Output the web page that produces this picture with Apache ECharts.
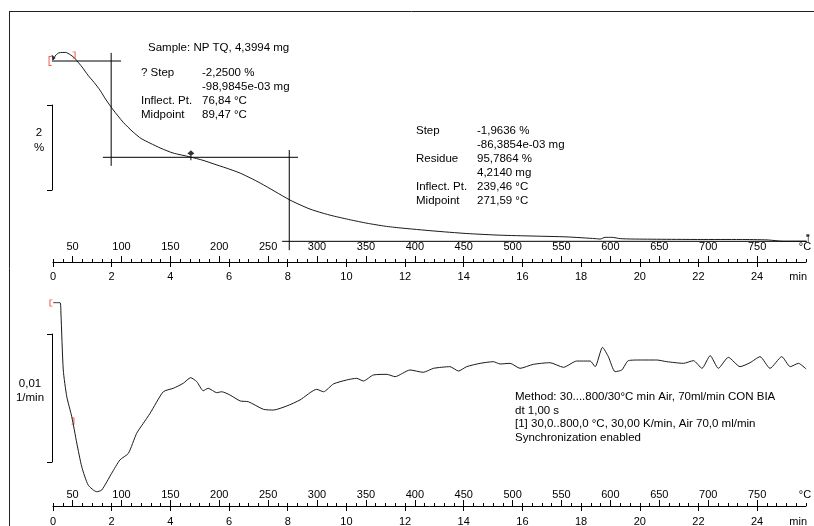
<!DOCTYPE html>
<html><head><meta charset="utf-8">
<script src="https://cdn.jsdelivr.net/npm/echarts@6/dist/echarts.min.js"></script>
<style>html,body{margin:0;padding:0;background:#fff}#c{width:814px;height:526px}</style>
</head><body><div id="c"></div>
<script>
// ---- Data (time in min, heating 30 K/min from 30 °C) ----
const tgaTime = [0.00,0.10,0.20,0.31,0.44,0.58,0.72,0.82,0.99,1.19,
  1.40,1.60,1.81,2.05,2.39,2.73,3.00,3.31,3.68,4.09,
  4.67,5.11,5.59,6.03,6.38,6.72,7.06,7.57,8.08,8.42,
  8.76,9.17,9.55,10.13,10.70,11.32,11.83,12.95,14.08,15.24,
  16.36,17.52,18.48,18.65,18.82,19.06,19.33,19.77,22.06,23.42,
  24.34,24.89,25.67];
const tgaMass = [100.03,100.14,100.19,100.20,100.20,100.15,100.08,100.00,99.86,99.67,
  99.50,99.32,99.09,98.86,98.57,98.34,98.19,98.08,97.96,97.85,
  97.76,97.68,97.57,97.47,97.38,97.27,97.15,96.95,96.75,96.64,
  96.54,96.45,96.38,96.29,96.21,96.14,96.10,96.03,95.97,95.93,
  95.91,95.89,95.85,95.84,95.88,95.88,95.85,95.84,95.83,95.83,
  95.82,95.79,95.79];
const dtgTime = [0.01,0.24,0.27,0.35,0.47,0.64,0.81,0.98,1.20,1.49,
  1.66,2.00,2.28,2.57,2.85,3.08,3.31,3.76,4.10,4.44,
  4.69,4.90,5.12,5.29,5.58,5.75,6.03,6.38,6.66,7.17,
  7.51,7.97,8.42,8.99,9.22,9.56,10.01,10.35,10.58,10.92,
  11.38,11.66,12.17,12.62,12.97,13.53,13.82,14.10,14.56,15.01,
  15.24,15.58,15.92,16.37,16.94,17.40,17.85,18.31,18.48,18.73,
  18.93,19.16,19.39,19.61,20.01,20.58,20.92,21.49,21.83,22.12,
  22.40,22.68,23.02,23.42,23.76,24.10,24.44,24.84,25.13,25.41,
  25.67];
const dtgRate = [0.00487,0.00487,0.00406,-0.00039,-0.00248,-0.00404,-0.00609,-0.00795,-0.00938,-0.00990,
  -0.00977,-0.00846,-0.00742,-0.00690,-0.00534,-0.00455,-0.00377,-0.00209,-0.00182,-0.00143,
  -0.00099,-0.00130,-0.00201,-0.00182,-0.00216,-0.00209,-0.00234,-0.00281,-0.00287,-0.00346,
  -0.00352,-0.00320,-0.00273,-0.00190,-0.00209,-0.00148,-0.00117,-0.00104,-0.00125,-0.00078,
  -0.00073,-0.00091,-0.00039,-0.00057,-0.00026,-0.00013,-0.00047,-0.00013,0.00013,0.00026,
  0.00008,0.00013,-0.00026,0.00005,0.00018,-0.00018,0.00031,0.00031,-0.00013,0.00138,
  0.00065,-0.00052,-0.00039,0.00034,0.00039,0.00039,0.00026,0.00013,0.00034,-0.00026,
  0.00073,-0.00026,0.00060,-0.00013,0.00018,0.00065,-0.00026,0.00065,-0.00013,0.00013,
  -0.00031];

// step evaluation (values from the evaluation texts)
const step1Levels = [100.0, 97.75];
const step2Residue = 95.7864;
const midpointTemps = [89.47, 271.59];
const step1UpperSpan = [-0.31, 2.32];
const step1LowerSpan = [1.70, 8.35];
const residueSpan = [7.81, 25.81];
const mid1Span = [100.19, 97.55];
const mid2Span = [97.92, 95.58];

// markers
const inflMarker = [4.70, 97.80];
const startMarker = [0.02, 100.08];
const endMarker = [25.73, 95.86];
const tgaLimits = [[-0.10, 100.0], [0.72, 100.14]];
const dtgLimits = [[-0.07, 0.00484], [0.68, -0.00438]];

// axes
const timeLabels = [0, 2, 4, 6, 8, 10, 12, 14, 16, 18, 20, 22, 24];
const tempLabels = [50,100,150,200,250,300,350,400,450,500,550,600,650,700,750];
const tempStart = 30, tempEnd = 800, heatingRate = 30;
const timeMax = (tempEnd - tempStart) / heatingRate;
const tempMinorTicks = [];
for (let T = tempStart; T <= tempEnd; T += 10) tempMinorTicks.push(T);

const sampleText = 'Sample: NP TQ, 4,3994 mg';
const step1Names = '? Step\n\nInflect. Pt.\nMidpoint';
const step1Values = '-2,2500 %\n-98,9845e-03 mg\n76,84 °C\n89,47 °C';
const step2Names = 'Step\n\nResidue\n\nInflect. Pt.\nMidpoint';
const step2Values = '-1,9636 %\n-86,3854e-03 mg\n95,7864 %\n4,2140 mg\n239,46 °C\n271,59 °C';
const methodText = 'Method: 30....800/30°C min Air, 70ml/min CON BIA\ndt 1,00 s\n[1] 30,0..800,0 °C, 30,00 K/min, Air 70,0 ml/min\nSynchronization enabled';

// ---- Chart ----
const FONT = '"Liberation Sans", Arial, sans-serif';
const BLACK = '#000';
const RED = '#ee3322';
const toT = T => (T - tempStart) / heatingRate;

function timeAxis(grid, margin) {
  return {
    gridIndex: grid, type: 'value', position: 'bottom', min: 0, max: timeMax,
    axisLine: {show: true, onZero: false, lineStyle: {color: BLACK, width: 1}},
    axisTick: {show: true, customValues: timeLabels, length: 5, lineStyle: {color: BLACK}},
    axisLabel: {show: true, customValues: timeLabels.concat([25.4]), margin: margin,
      formatter: v => (v > 24.5 ? 'min' : String(v)), color: BLACK, fontSize: 11, fontFamily: FONT},
    splitLine: {show: false}
  };
}
function tempAxisMinor(grid) {
  return {
    gridIndex: grid, type: 'value', position: 'bottom', min: tempStart, max: tempEnd,
    axisLine: {show: false, onZero: false},
    axisTick: {show: true, inside: true, customValues: tempMinorTicks, length: 3, lineStyle: {color: BLACK}},
    axisLabel: {show: false}, splitLine: {show: false}
  };
}
function tempAxisMajor(grid, margin) {
  return {
    gridIndex: grid, type: 'value', position: 'bottom', min: tempStart, max: tempEnd,
    axisLine: {show: false, onZero: false},
    axisTick: {show: true, inside: true, customValues: tempLabels, length: 6, lineStyle: {color: BLACK}},
    axisLabel: {show: true, inside: true, margin: margin, customValues: tempLabels.concat([799]),
      formatter: v => (v > 760 ? '°C' : String(v)), color: BLACK, fontSize: 11, fontFamily: FONT},
    splitLine: {show: false}
  };
}

const lineBase = {type: 'line', showSymbol: false, symbol: 'none', animation: false, silent: true};
function segment(x0, y0, x1, y1) {
  return Object.assign({}, lineBase, {xAxisIndex: 0, yAxisIndex: 0, clip: false,
    data: [[x0, y0], [x1, y1]], lineStyle: {color: BLACK, width: 1}});
}
const bracketL = 'path://M0,0 H3 V1 H1 V9 H3 V10 H0 Z';
const bracketR = 'path://M0,0 H3 V10 H0 V9 H2 V1 H0 Z';

const option = {
  animation: false,
  backgroundColor: '#fff',
  textStyle: {fontFamily: FONT},
  grid: [
    {left: 53, width: 753, top: 11, height: 251, outerBoundsMode: 'none'},
    {left: 53, width: 753, top: 290, height: 216, outerBoundsMode: 'none'},
    {left: 52, width: 10, top: 105, height: 85, outerBoundsMode: 'none'},
    {left: 52, width: 10, top: 334, height: 128, outerBoundsMode: 'none'}
  ],
  xAxis: [
    timeAxis(0, 9), tempAxisMinor(0), tempAxisMajor(0, 10),
    timeAxis(1, 10), tempAxisMinor(1), tempAxisMajor(1, 6),
    {gridIndex: 2, type: 'value', show: false},
    {gridIndex: 3, type: 'value', show: false}
  ],
  yAxis: [
    {gridIndex: 0, type: 'value', min: 100 - 201 / 42.8, max: 100 + 50 / 42.8, show: false},
    {gridIndex: 1, type: 'value', min: -141 / 12800, max: 75 / 12800, show: false},
    {gridIndex: 2, type: 'value', min: 0, max: 2, position: 'left',
      axisLine: {show: true, lineStyle: {color: BLACK}}, splitLine: {show: false},
      axisTick: {show: true, customValues: [0, 2], length: 5, lineStyle: {color: BLACK}},
      axisLabel: {show: true, customValues: [1.16], formatter: () => '2\n%', align: 'center',
        margin: 13, lineHeight: 15, color: BLACK, fontSize: 11.5, fontFamily: FONT}},
    {gridIndex: 3, type: 'value', min: 0, max: 0.01, position: 'left',
      axisLine: {show: true, lineStyle: {color: BLACK}}, splitLine: {show: false},
      axisTick: {show: true, customValues: [0, 0.01], length: 5, lineStyle: {color: BLACK}},
      axisLabel: {show: true, customValues: [0.00555], formatter: () => '0,01\n1/min', align: 'center',
        margin: 22, lineHeight: 14, color: BLACK, fontSize: 11.5, fontFamily: FONT}}
  ],
  series: [
    Object.assign({}, lineBase, {xAxisIndex: 0, yAxisIndex: 0, smooth: 0.2,
      data: tgaTime.map((t, i) => [t, tgaMass[i]]), lineStyle: {color: '#1a1a1a', width: 1}}),
    Object.assign({}, lineBase, {xAxisIndex: 3, yAxisIndex: 1, smooth: 0.2,
      data: dtgTime.map((t, i) => [t, dtgRate[i]]), lineStyle: {color: '#1a1a1a', width: 1}}),
    segment(step1UpperSpan[0], step1Levels[0], step1UpperSpan[1], step1Levels[0]),
    segment(step1LowerSpan[0], step1Levels[1], step1LowerSpan[1], step1Levels[1]),
    segment(residueSpan[0], step2Residue, residueSpan[1], step2Residue),
    segment(toT(midpointTemps[0]), mid1Span[0], toT(midpointTemps[0]), mid1Span[1]),
    segment(toT(midpointTemps[1]), mid2Span[0], toT(midpointTemps[1]), mid2Span[1]),
    {type: 'scatter', xAxisIndex: 0, yAxisIndex: 0, clip: false, silent: true, animation: false,
      data: [tgaLimits[0]], symbol: bracketL, symbolSize: [3, 10], itemStyle: {color: RED}},
    {type: 'scatter', xAxisIndex: 0, yAxisIndex: 0, clip: false, silent: true, animation: false,
      data: [tgaLimits[1]], symbol: bracketR, symbolSize: [3, 7], itemStyle: {color: RED}},
    {type: 'scatter', xAxisIndex: 3, yAxisIndex: 1, clip: false, silent: true, animation: false,
      data: [dtgLimits[0]], symbol: bracketL, symbolSize: [3, 7], itemStyle: {color: RED}},
    {type: 'scatter', xAxisIndex: 3, yAxisIndex: 1, clip: false, silent: true, animation: false,
      data: [dtgLimits[1]], symbol: bracketR, symbolSize: [3, 7], itemStyle: {color: RED}},
    {type: 'scatter', xAxisIndex: 0, yAxisIndex: 0, clip: false, silent: true, animation: false,
      data: [inflMarker], symbol: 'path://M3,0 L6,3 L3,5 L0,3 Z M2.5,4 H3.5 V9 H2.5 Z', symbolSize: [7, 10],
      itemStyle: {color: BLACK}},
    {type: 'scatter', xAxisIndex: 0, yAxisIndex: 0, clip: false, silent: true, animation: false,
      data: [startMarker], symbol: 'path://M0,0 L5,4 L1,7 Z', symbolSize: [4, 6], itemStyle: {color: BLACK}},
    {type: 'scatter', xAxisIndex: 0, yAxisIndex: 0, clip: false, silent: true, animation: false,
      data: [endMarker], symbol: 'path://M0,0 H4 V3 H3 V9 H2 V3 H0 Z', symbolSize: [3, 8], itemStyle: {color: BLACK}}
  ],
  graphic: [
    {type: 'line', silent: true, shape: {x1: 9, y1: 11.5, x2: 814, y2: 11.5}, style: {stroke: '#222', lineWidth: 1}},
    {type: 'line', silent: true, shape: {x1: 9.5, y1: 11, x2: 9.5, y2: 526}, style: {stroke: '#222', lineWidth: 1}},
    {type: 'text', silent: true, x: 148, y: 42, style: {text: sampleText, font: '11.5px ' + FONT, fill: BLACK, verticalAlign: 'top'}},
    {type: 'text', silent: true, x: 141, y: 66, style: {text: step1Names, font: '11.5px ' + FONT, fill: BLACK, lineHeight: 14, verticalAlign: 'top'}},
    {type: 'text', silent: true, x: 202, y: 66, style: {text: step1Values, font: '11.5px ' + FONT, fill: BLACK, lineHeight: 14, verticalAlign: 'top'}},
    {type: 'text', silent: true, x: 416, y: 124, style: {text: step2Names, font: '11.5px ' + FONT, fill: BLACK, lineHeight: 14, verticalAlign: 'top'}},
    {type: 'text', silent: true, x: 477, y: 124, style: {text: step2Values, font: '11.5px ' + FONT, fill: BLACK, lineHeight: 14, verticalAlign: 'top'}},
    {type: 'text', silent: true, x: 515, y: 390, style: {text: methodText, font: '11.5px ' + FONT, fill: BLACK, lineHeight: 13.7, verticalAlign: 'top'}}
  ]
};

const chart = echarts.init(document.getElementById('c'), null, {renderer: 'canvas'});
chart.setOption(option);
</script>
</body></html>
